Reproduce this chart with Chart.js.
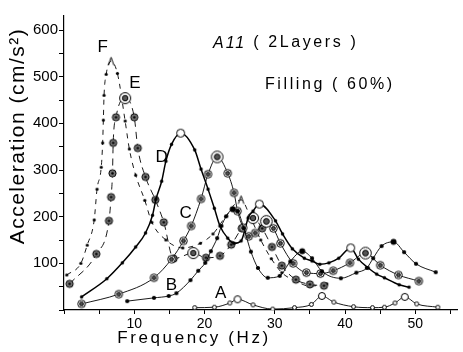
<!DOCTYPE html>
<html>
<head>
<meta charset="utf-8">
<script src="https://cdn.jsdelivr.net/npm/chart.js@4/dist/chart.umd.min.js"></script>
<style>
html,body{margin:0;padding:0;background:#fff;}
</style>
</head>
<body>
<canvas id="myChart" width="463" height="352"></canvas>
<script>
// values
const freqF = [0.4, 2.4, 3.3, 4.3, 4.7, 5.3, 5.5, 5.6, 5.7, 6.0, 6.7, 7.6, 8.7, 9.3, 10.2, 11.5, 12.5, 14.5, 16.9, 19.4, 21.2, 23.0, 25.2, 26.5, 28.0, 29.5, 31.0, 33.0, 35.0, 37.4];
const accF  = [75, 100, 139, 193, 259, 306, 358, 407, 460, 505, 533, 507, 405, 345, 289, 235, 188, 150, 133, 143, 163, 200, 236, 200, 150, 110, 80, 62, 51, 56];

const freqE = [0.8, 4.6, 6.4, 6.7, 6.9, 7.0, 7.4, 8.7, 10.0, 10.5, 11.6, 13.0, 14.2, 15.6, 18.4, 20.2, 22.2, 23.8, 25.3, 26.9, 28.2, 29.6, 31.0, 33.0, 35.0, 37.0];
const accE  = [56, 120, 191, 242, 293, 358, 413, 454, 413, 347, 285, 236, 188, 110, 122, 112, 116, 140, 175, 197, 175, 135, 95, 65, 55, 52];

const freqD = [2.5, 6.1, 8.3, 10.2, 11.6, 12.6, 13.1, 13.9, 14.5, 15.3, 16.6, 18.6, 19.5, 20.5, 21.4, 22.2, 23.3, 24.2, 25.2, 25.7, 26.2, 26.9, 27.8, 30.1, 31.1, 32.5, 34.2, 35.3, 36.4, 37.7, 39.1, 40.8, 41.9, 43.3, 44.5, 45.6, 47.7, 49.1];
const accD  = [28, 67, 101, 135, 165, 203, 238, 276, 319, 355, 379, 343, 302, 259, 218, 180, 154, 143, 148, 169, 197, 212, 227, 191, 163, 131, 111, 105, 98, 101, 111, 133, 109, 90, 77, 69, 54, 49];

const freqC = [2.5, 7.8, 12.8, 15.3, 17.0, 18.1, 19.5, 20.5, 21.8, 23.3, 24.2, 24.7, 25.5, 26.3, 27.2, 28.8, 29.8, 30.8, 32.6, 34.5, 36.5, 38.3, 40.7, 42.9, 45.0, 47.6, 50.5];
const accC  = [13, 34, 69, 109, 148, 180, 238, 291, 328, 293, 251, 212, 176, 158, 165, 190, 175, 143, 100, 80, 78, 84, 101, 122, 96, 75, 62];

const freqB = [9.0, 12.8, 14.9, 16.0, 18.0, 19.1, 20.1, 20.9, 21.8, 22.4, 23.1, 24.0, 24.7, 25.6, 26.6, 27.6, 29.0, 30.7, 32.2, 33.9, 35.3, 36.7, 39.4, 41.6, 43.1, 44.0, 45.2, 46.9, 48.4, 50.1, 52.9];
const accB  = [19, 26, 30, 36, 64, 84, 101, 126, 154, 180, 201, 216, 212, 175, 125, 90, 69, 73, 104, 126, 111, 83, 68, 80, 90, 111, 137, 146, 124, 99, 81];

const freqA = [18.6, 21.4, 23.6, 24.7, 26.9, 29.7, 32.8, 35.2, 36.7, 38.4, 41.2, 43.9, 45.6, 47.1, 48.5, 50.2, 53.2];
const accA  = [5, 6, 15, 23, 11, 2, 5, 12, 30, 17, 7, 5, 6, 15, 28, 13, 6];

const curveNames = ['A', 'B', 'C', 'D', 'E', 'F'];
const yTickValues = [100, 200, 300, 400, 500, 600];
const xTickValues = [10, 20, 30, 40, 50];

const fontFam = '"Liberation Sans", Arial, sans-serif';

function series(xs, ys) {
    return xs.map((x, i) => ({x: x, y: ys[i]}));
}

// little canvases used as point markers
function marker(r, draw) {
    const c = document.createElement('canvas');
    const s = Math.ceil(r * 2 + 3);
    c.width = c.height = s;
    const g = c.getContext('2d');
    g.translate(s / 2, s / 2);
    g.strokeStyle = '#000';
    g.lineWidth = 1;
    draw(g, r);
    return c;
}
const dot = r => marker(r, (g, r) => { g.beginPath(); g.arc(0, 0, r, 0, Math.PI * 2); g.fillStyle = '#000'; g.fill(); });
const ring = r => marker(r, (g, r) => { g.beginPath(); g.arc(0, 0, r, 0, Math.PI * 2); g.fillStyle = '#fff'; g.fill(); g.stroke(); });
const bull = r => marker(r, (g, r) => {
    g.beginPath(); g.arc(0, 0, r, 0, Math.PI * 2); g.fillStyle = '#fff'; g.fill(); g.stroke();
    g.beginPath(); g.arc(0, 0, r * 0.5, 0, Math.PI * 2); g.fillStyle = '#555'; g.fill(); g.stroke();
});
const hatch = r => marker(r, (g, r) => {
    g.beginPath(); g.arc(0, 0, r, 0, Math.PI * 2); g.fillStyle = '#777'; g.fill(); g.stroke();
    g.beginPath(); g.arc(0, 0, 1.3, 0, Math.PI * 2); g.fillStyle = '#000'; g.fill();
});
const caret = r => marker(r, (g, r) => {
    g.beginPath(); g.moveTo(-r * 0.7, r); g.lineTo(0, -r); g.lineTo(r * 0.7, r); g.stroke();
});

function isPeak(ctx) {
    const d = ctx.dataset.data, i = ctx.dataIndex;
    if (i === undefined || i <= 0 || i >= d.length - 1) return false;
    return d[i].y > d[i - 1].y && d[i].y > d[i + 1].y;
}
function styleBy(normal, peak) {
    return ctx => isPeak(ctx) ? peak : normal;
}

const base = {
    borderColor: '#000',
    borderWidth: 0.9,
    cubicInterpolationMode: 'monotone',
    fill: false
};

const textPlugin = {
    id: 'texts',
    afterDraw(chart) {
        const ctx = chart.ctx;
        const x = chart.scales.x, y = chart.scales.y;
        ctx.save();
        ctx.fillStyle = '#000';
        ctx.textBaseline = 'middle';

        // axis titles
        ctx.font = '21px ' + fontFam;
        ctx.letterSpacing = '1.5px';
        ctx.textAlign = 'center';
        ctx.save();
        ctx.translate(18, 136);
        ctx.rotate(-Math.PI / 2);
        ctx.fillText('Acceleration (cm/s²)', 0, 0);
        ctx.restore();

        ctx.font = '17px ' + fontFam;
        ctx.letterSpacing = '2.6px';
        ctx.fillText('Frequency (Hz)', 194, 338);

        // figure notes
        ctx.textAlign = 'left';
        ctx.font = 'italic 16px ' + fontFam;
        ctx.letterSpacing = '2px';
        let px = x.getPixelForValue(21.2), py = y.getPixelForValue(572);
        ctx.fillText('A11', px, py);
        px += ctx.measureText('A11').width;
        ctx.font = '16px ' + fontFam;
        ctx.letterSpacing = '2.6px';
        ctx.fillText(' ( 2Layers )', px, py);
        ctx.fillText('Filling ( 60%)', x.getPixelForValue(28.6), y.getPixelForValue(484));

        // curve letters
        const spots = [[22.3, 36], [15.3, 53], [17.3, 207], [13.9, 327], [10.1, 486], [5.5, 563]];
        ctx.font = '17px ' + fontFam;
        ctx.letterSpacing = '0px';
        ctx.textAlign = 'center';
        curveNames.forEach((n, i) => {
            ctx.fillText(n, x.getPixelForValue(spots[i][0]), y.getPixelForValue(spots[i][1]));
        });
        ctx.restore();
    }
};

window.onload = () => {
    const canvas = document.getElementById('myChart');
    const ctx = canvas.getContext('2d');

    const myChart = new Chart(ctx, {
        type: 'line',
        data: {
            datasets: [
                Object.assign({}, base, {
                    data: series(freqA, accA),
                    pointStyle: styleBy(ring(2), ring(3.5))
                }),
                Object.assign({}, base, {
                    data: series(freqB, accB),
                    pointStyle: styleBy(dot(2.1), dot(3))
                }),
                Object.assign({}, base, {
                    data: series(freqC, accC),
                    pointStyle: styleBy(bull(3.8), bull(5.8))
                }),
                Object.assign({}, base, {
                    data: series(freqD, accD),
                    borderWidth: 1.5,
                    pointStyle: styleBy(dot(1.7), ring(4))
                }),
                Object.assign({}, base, {
                    data: series(freqE, accE),
                    borderDash: [7, 5],
                    pointStyle: styleBy(hatch(3.6), bull(5.5))
                }),
                Object.assign({}, base, {
                    data: series(freqF, accF),
                    borderDash: [5, 5],
                    pointStyle: styleBy(dot(1.6), caret(4))
                })
            ]
        },
        options: {
            responsive: false,
            animation: false,
            events: [],
            layout: {
                padding: {top: 16, right: 1, left: 0, bottom: 0}
            },
            plugins: {
                legend: {display: false},
                tooltip: {enabled: false}
            },
            scales: {
                x: {
                    type: 'linear',
                    min: 0,
                    max: 56,
                    afterFit: s => { s.height = 42; },
                    border: {display: true, color: '#000', width: 1.2},
                    grid: {drawOnChartArea: false, drawTicks: true, tickLength: 4, color: '#000'},
                    ticks: {
                        stepSize: 5,
                        includeBounds: false,
                        autoSkip: false,
                        maxRotation: 0,
                        padding: 2,
                        color: '#000',
                        font: {family: fontFam, size: 14},
                        callback: v => xTickValues.includes(v) ? String(v) : ''
                    }
                },
                y: {
                    min: 0,
                    max: 630,
                    afterFit: s => { s.width = 64; },
                    border: {display: true, color: '#000', width: 1.2},
                    grid: {drawOnChartArea: false, drawTicks: true, tickLength: 5, color: '#000'},
                    ticks: {
                        stepSize: 50,
                        includeBounds: false,
                        autoSkip: false,
                        padding: 1,
                        color: '#000',
                        font: {family: fontFam, size: 15},
                        callback: v => yTickValues.includes(v) ? String(v) : ''
                    }
                }
            }
        },
        plugins: [textPlugin]
    });
};
</script>
</body>
</html>
